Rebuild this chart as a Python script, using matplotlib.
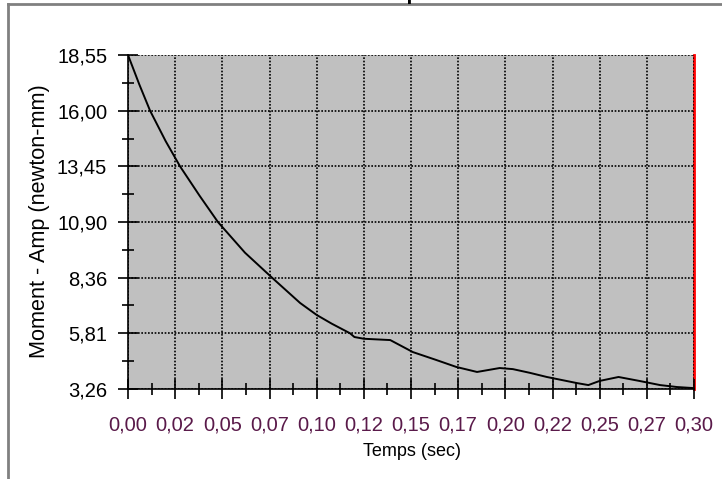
import matplotlib
matplotlib.use('Agg')
import matplotlib.pyplot as plt
from matplotlib.lines import Line2D
from matplotlib.ticker import FixedLocator

plt.rcParams['font.family'] = ['Liberation Sans', 'DejaVu Sans']

# courbe
temps = [0.000, 0.006, 0.0117, 0.020, 0.0276, 0.038, 0.0477, 0.062, 0.0763,
         0.0912, 0.100, 0.108, 0.1177, 0.120, 0.125, 0.139, 0.151, 0.163,
         0.174, 0.185, 0.197, 0.204, 0.213, 0.222, 0.238, 0.244, 0.250,
         0.260, 0.271, 0.282, 0.291, 0.300]
moment = [18.55, 17.20, 16.00, 14.60, 13.45, 12.10, 10.90, 9.50, 8.36,
          7.20, 6.65, 6.25, 5.81, 5.64, 5.56, 5.50, 4.95, 4.60,
          4.27, 4.04, 4.22, 4.17, 4.00, 3.81, 3.53, 3.44, 3.63,
          3.81, 3.63, 3.44, 3.35, 3.30]

y_ticks = [3.26, 5.81, 8.36, 10.90, 13.45, 16.00, 18.55]
y_labels = ['3,26', '5,81', '8,36', '10,90', '13,45', '16,00', '18,55']
x_ticks = [i * 0.025 for i in range(13)]
x_labels = ['0,00', '0,02', '0,05', '0,07', '0,10', '0,12', '0,15',
            '0,17', '0,20', '0,22', '0,25', '0,27', '0,30']

W, H = 722, 479
fig = plt.figure(figsize=(W / 100, H / 100), dpi=100)
ax = fig.add_axes([128 / W, 1 - 389 / H, (694 - 128) / W, (389 - 55) / H])
ax.set_facecolor('#c0c0c0')

ax.plot(temps, moment, color='black', lw=1.4, zorder=3)

ax.set_xlim(0, 0.30)
ax.set_ylim(3.26, 18.55)
ax.set_xticks(x_ticks)
ax.set_xticklabels(x_labels, color='#5a1a4a', fontsize=14.5)
ax.set_yticks(y_ticks)
ax.set_yticklabels(y_labels, fontsize=14.5)
ax.xaxis.set_minor_locator(FixedLocator([0.0125 + i * 0.025 for i in range(12)]))
ax.yaxis.set_minor_locator(FixedLocator([(y_ticks[i] + y_ticks[i + 1]) / 2 for i in range(6)]))
ax.tick_params(which='major', direction='inout', length=14, width=1.2)
ax.tick_params(which='minor', direction='inout', length=8, width=1.2)
ax.tick_params(axis='x', which='major', pad=12)
ax.tick_params(axis='y', which='major', pad=8)

ax.grid(True, which='major', color='black', linestyle=(0, (1, 1)), lw=1.2)
ax.set_axisbelow(False)

ax.spines['top'].set_visible(False)
ax.spines['right'].set_color('red')
ax.spines['right'].set_linewidth(2)
ax.spines['left'].set_linewidth(1.2)
ax.spines['bottom'].set_linewidth(1.2)

ax.set_xlabel('Temps (sec)', fontsize=13)
ax.set_ylabel('Moment - Amp (newton-mm)', fontsize=15.6)
ax.xaxis.set_label_coords((412 - 128) / 566, -(452 - 389) / 334, transform=ax.transAxes)
ax.xaxis.label.set_va('center')
ax.yaxis.set_label_coords(-(128 - 40) / 566, (389 - 221) / 334, transform=ax.transAxes)
ax.yaxis.label.set_va('center')

# cadre gris du graphique
fig.add_artist(Line2D([8 / W, 8 / W], [0, 1 - 3.5 / H], color='#808080', lw=2))
fig.add_artist(Line2D([8 / W, 1], [1 - 3.5 / H, 1 - 3.5 / H], color='#808080', lw=2))

# titre presque entièrement hors de l'image
fig.text(419 / W, 1.0, 'Moment - Amp', ha='right', va='baseline',
         fontsize=15, fontweight='bold')

fig.savefig('out.png', dpi=100)
